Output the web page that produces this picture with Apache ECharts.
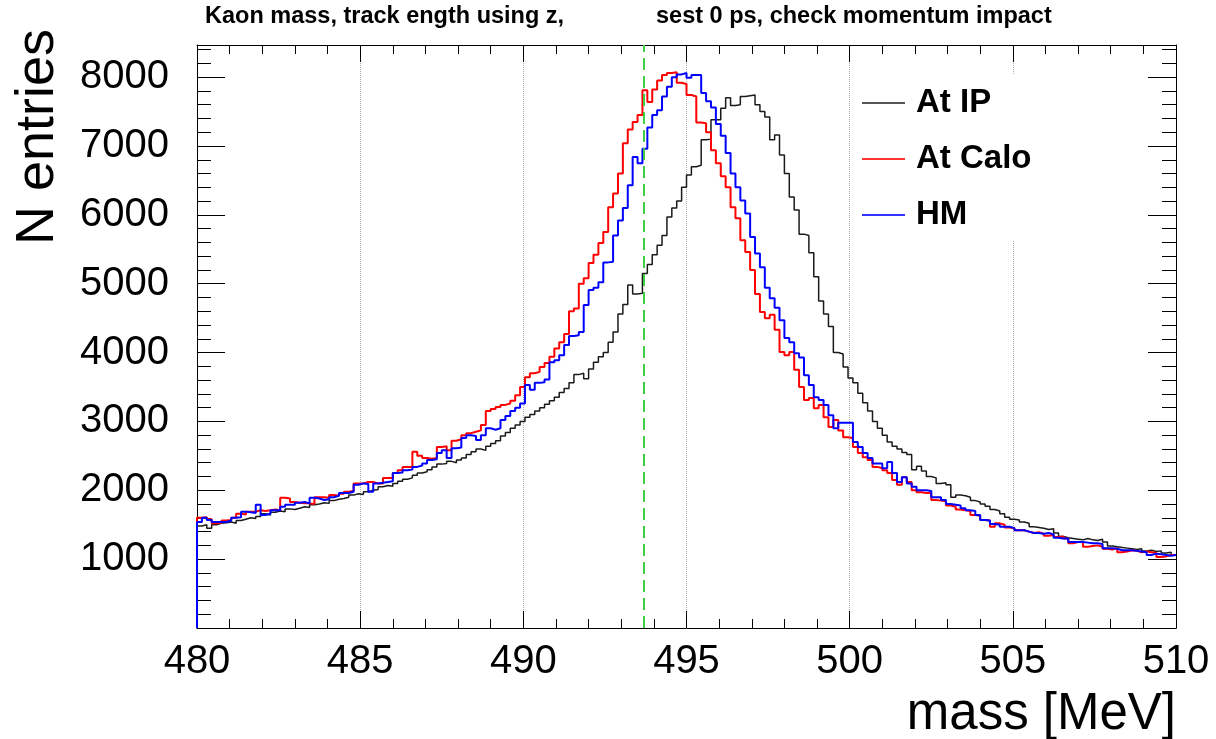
<!DOCTYPE html>
<html>
<head>
<meta charset="utf-8">
<script src="https://cdn.jsdelivr.net/npm/echarts@6/dist/echarts.min.js"></script>
<style>
  html, body { margin: 0; padding: 0; background: #fff; }
  #chart { width: 1216px; height: 739px; }
</style>
</head>
<body>
<div id="chart"></div>
<script>
// histogram binning: 200 bins of 0.15 MeV from 480 to 510
const binLo = 480;
const binWidth = 0.15;
const kaonMass = 493.677;
const seriesNames = ['At IP', 'At Calo', 'HM'];

const atIP = [
  1480, 1500, 1450, 1500, 1520, 1530, 1540, 1520, 1560, 1580,
  1600, 1590, 1620, 1660, 1640, 1680, 1700, 1690, 1730, 1720,
  1740, 1760, 1750, 1790, 1800, 1820, 1810, 1850, 1870, 1880,
  1900, 1930, 1950, 1940, 1980, 2000, 2010, 2050, 2070, 2060,
  2100, 2130, 2160, 2180, 2220, 2250, 2270, 2300, 2340, 2380,
  2390, 2420, 2400, 2440, 2470, 2520, 2560, 2600, 2580, 2640,
  2680, 2720, 2790, 2840, 2900, 2950, 3000, 3060, 3100, 3150,
  3200, 3250, 3300, 3350, 3420, 3480, 3560, 3680, 3700, 3620,
  3760, 3860, 3940, 4000, 4150, 4300, 4560, 4700, 4980, 4850,
  4860, 5150, 5280, 5420, 5560, 5700, 5970, 6100, 6200, 6400,
  6580, 6700, 6720, 7090, 7100, 7380, 7380, 7550, 7700, 7590,
  7600, 7720, 7730, 7740, 7600, 7500, 7420, 7090, 7160, 6870,
  6600, 6260, 6070, 5720, 5700, 5450, 5100, 4750, 4560, 4380,
  4000, 3980, 3790, 3630, 3560, 3410, 3270, 3150, 3000, 2900,
  2800, 2700, 2640, 2600, 2550, 2520, 2300, 2350, 2280, 2200,
  2180, 2100, 2110, 2080, 1900, 1930, 1920, 1900, 1850, 1830,
  1800, 1770, 1720, 1700, 1660, 1610, 1580, 1570, 1540, 1520,
  1470, 1460, 1450, 1430, 1440, 1380, 1330, 1310, 1300, 1290,
  1280, 1300, 1280, 1270, 1290, 1250, 1190, 1180, 1170, 1160,
  1150, 1140, 1150, 1120, 1130, 1110, 1120, 1090, 1100, 1060
];

const atCalo = [
  1600, 1610, 1580, 1520, 1530, 1560, 1570, 1600, 1660, 1650,
  1690, 1690, 1710, 1700, 1710, 1720, 1710, 1890, 1880, 1830,
  1820, 1810, 1810, 1800, 1900, 1900, 1890, 1930, 1920, 1950,
  1980, 1990, 2100, 2100, 2120, 2120, 2100, 2100, 2180, 2180,
  2250, 2290, 2340, 2340, 2560, 2500, 2470, 2460, 2470, 2630,
  2640, 2580, 2720, 2740, 2800, 2830, 2850, 2870, 2950, 3150,
  3180, 3210, 3240, 3260, 3300, 3380, 3500, 3640, 3700, 3720,
  3790, 3850, 3940, 4060, 4150, 4270, 4600, 4640, 5000, 5080,
  5300, 5420, 5590, 5750, 6110, 6310, 6600, 7040, 7240, 7350,
  7450, 7810, 7640, 7820, 7950, 8030, 8060, 8070, 7920, 7900,
  7740, 7720, 7340, 7330, 7200, 6940, 6750, 6560, 6400, 6110,
  5950, 5630, 5460, 5200, 4850, 4590, 4500, 4550, 4330, 4010,
  3960, 4010, 3750, 3500, 3310, 3340, 3190, 3240, 3060, 2920,
  3020, 2870, 2770, 2760, 2630, 2540, 2480, 2440, 2340, 2320,
  2290, 2250, 2150, 2080, 2190, 2120, 2000, 1970, 1960, 1960,
  1860, 1850, 1840, 1780, 1760, 1720, 1710, 1700, 1640, 1630,
  1570, 1560, 1470, 1520, 1500, 1460, 1450, 1420, 1420, 1400,
  1380, 1390, 1370, 1340, 1350, 1320, 1330, 1300, 1230, 1250,
  1250, 1180, 1190, 1200, 1180, 1150, 1140, 1160, 1100, 1110,
  1130, 1120, 1100, 1110, 1100, 1090, 1030, 1040, 1060, 1060
];

const hm = [
  1540, 1600, 1570, 1540, 1540, 1540, 1560, 1600, 1610, 1690,
  1680, 1670, 1790, 1640, 1660, 1710, 1710, 1760, 1790, 1790,
  1820, 1830, 1810, 1890, 1880, 1860, 1870, 1900, 1920, 1960,
  1960, 1980, 2080, 2100, 2090, 1980, 2100, 2110, 2120, 2130,
  2250, 2260, 2290, 2300, 2340, 2360, 2390, 2440, 2450, 2540,
  2580, 2470, 2610, 2620, 2760, 2800, 2790, 2730, 2800, 2900,
  2880, 2900, 3020, 3080, 3150, 3200, 3260, 3530, 3460, 3560,
  3570, 3610, 3860, 3890, 3960, 4110, 4240, 4250, 4300, 4690,
  4910, 4940, 5020, 5310, 5320, 5700, 5920, 6100, 6430, 6840,
  6750, 6960, 7270, 7450, 7520, 7720, 7860, 8000, 8040, 8060,
  7990, 8030, 8030, 7770, 7650, 7560, 7320, 7150, 6900, 6600,
  6400, 6210, 6020, 5680, 5440, 5240, 4940, 4790, 4650, 4470,
  4210, 4150, 3990, 3930, 3670, 3530, 3350, 3310, 3240, 3090,
  2900, 2980, 2980, 2980, 2700, 2630, 2540, 2470, 2390, 2390,
  2320, 2410, 2250, 2120, 2190, 2100, 2050, 2000, 2000, 1990,
  1900, 1900, 1860, 1800, 1790, 1780, 1740, 1710, 1700, 1640,
  1570, 1560, 1510, 1500, 1470, 1470, 1450, 1420, 1420, 1400,
  1380, 1380, 1370, 1380, 1360, 1310, 1300, 1300, 1250, 1250,
  1250, 1240, 1230, 1230, 1220, 1160, 1160, 1150, 1130, 1130,
  1130, 1120, 1110, 1100, 1060, 1080, 1070, 1060, 1050, 1060
];

const xMin = 480, xMax = 510;
const yMax = 8467;
const font = 'Liberation Sans, Arial, Helvetica, sans-serif';

// points at bin left edges, drawn as a step outline starting from 0
function histPoints(vals) {
  const pts = [[binLo, 0]];
  vals.forEach((v, i) => pts.push([+(binLo + i * binWidth).toFixed(3), v]));
  pts.push([+(binLo + vals.length * binWidth).toFixed(3), vals[vals.length - 1]]);
  return pts;
}

const tickStyle = { color: '#000', width: 1 };

function xAx(pos, interval, len, extra) {
  return Object.assign({
    type: 'value', position: pos, min: xMin, max: xMax, interval: interval,
    axisLine: { show: false, onZero: false },
    axisTick: { show: true, inside: true, length: len, lineStyle: tickStyle },
    axisLabel: { show: false },
    splitLine: { show: false }
  }, extra || {});
}
function yAx(pos, interval, len, extra) {
  return Object.assign({
    type: 'value', position: pos, min: 0, max: yMax, interval: interval,
    axisLine: { show: false, onZero: false },
    axisTick: { show: true, inside: true, length: len, lineStyle: tickStyle },
    axisLabel: { show: false },
    splitLine: { show: false }
  }, extra || {});
}

const chart = echarts.init(document.getElementById('chart'));
chart.setOption({
  animation: false,
  backgroundColor: '#fff',
  grid: { left: 197, right: 40, top: 45, bottom: 111, containLabel: false },
  xAxis: [
    xAx('bottom', 5, 17, {
      axisLine: { show: true, onZero: false, lineStyle: { color: '#000', width: 1 } },
      axisLabel: { show: true, fontSize: 40, color: '#000', fontFamily: font, margin: 14 },
      splitLine: { show: true, lineStyle: { color: '#aaa', type: 'dotted', width: 1 } }
    }),
    xAx('bottom', 1, 9),
    xAx('top', 5, 17, { axisLine: { show: true, onZero: false, lineStyle: { color: '#000', width: 1 } } }),
    xAx('top', 1, 9)
  ],
  yAxis: [
    yAx('left', 1000, 28, {
      axisLine: { show: true, onZero: false, lineStyle: { color: '#000', width: 1 } },
      axisLabel: {
        show: true, fontSize: 40, color: '#000', fontFamily: font, margin: 28,
        showMaxLabel: false, showMinLabel: false,
        formatter: v => String(v)
      }
    }),
    yAx('left', 200, 14),
    yAx('right', 1000, 28, { axisLine: { show: true, onZero: false, lineStyle: { color: '#000', width: 1 } } }),
    yAx('right', 200, 14)
  ],
  legend: {
    orient: 'vertical',
    left: 854,
    top: 75,
    padding: [8, 60, 5, 8],
    backgroundColor: '#fff',
    icon: 'rect',
    itemWidth: 43,
    itemHeight: 2,
    itemGap: 16,
    textStyle: { fontSize: 33, fontWeight: 'bold', color: '#000', fontFamily: font, lineHeight: 40, padding: [0, 0, 0, 6] },
    data: seriesNames
  },
  series: [
    {
      name: seriesNames[0], type: 'line', step: 'end', symbol: 'none',
      data: histPoints(atIP),
      lineStyle: { color: '#1a1a1a', width: 1.5 },
      itemStyle: { color: '#555' }
    },
    {
      name: seriesNames[1], type: 'line', step: 'end', symbol: 'none',
      data: histPoints(atCalo),
      lineStyle: { color: '#ff0000', width: 2 },
      itemStyle: { color: '#ff3333' }
    },
    {
      name: seriesNames[2], type: 'line', step: 'end', symbol: 'none',
      data: histPoints(hm),
      lineStyle: { color: '#0000ff', width: 2 },
      itemStyle: { color: '#3333ff' },
      markLine: {
        silent: true,
        symbol: ['none', 'none'],
        label: { show: false },
        lineStyle: { color: '#44cc44', type: [12, 6], width: 2 },
        data: [{ xAxis: kaonMass }]
      }
    }
  ],
  graphic: [
    {
      type: 'text', left: 205, top: 5,
      style: { text: 'Kaon mass, track ength using z, ', font: 'bold 23.5px ' + font, fill: '#000' }
    },
    {
      type: 'text', left: 656, top: 5,
      style: { text: 'sest 0 ps, check momentum impact', font: 'bold 23.5px ' + font, fill: '#000' }
    },
    {
      type: 'text', x: 38, y: 137, rotation: Math.PI / 2,
      style: { text: 'N entries', font: '54px ' + font, fill: '#000', textAlign: 'center', textVerticalAlign: 'middle' }
    },
    {
      type: 'text', x: 1176, y: 715,
      style: { text: 'mass [MeV]', font: '51px ' + font, fill: '#000', textAlign: 'right', textVerticalAlign: 'middle' }
    }
  ]
});
</script>
</body>
</html>
